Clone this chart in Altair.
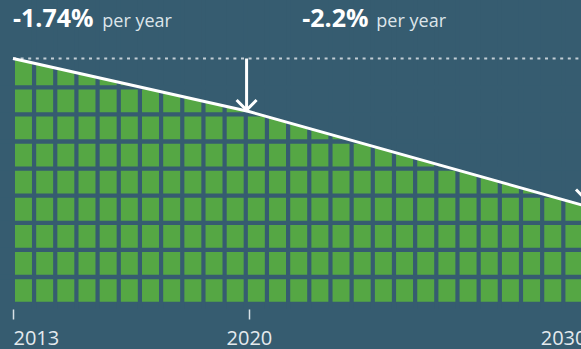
import altair as alt
import pandas as pd

# ---------------- data ----------------
line_years = [2013, 2020, 2030]
line_level = [100.0, 78.2, 39.3]          # index, 2013 = 100

rate_labels = ["-1.74%", "-2.2%"]
rate_suffix = ["per year", "per year"]
rate_label_year = [2013.0, 2021.58]
suffix_year = [2015.65, 2023.78]
label_level = [113.0, 113.0]

arrow_years = [2019.93, 2030.0]
arrow_top = [100.0, 100.0]
arrow_tip = [78.8, 42.0]

tick_years = [2013, 2020, 2030]
grid_cols = list(range(28))   # vertical gaps between square columns
grid_rows = list(range(8))    # horizontal gaps between square rows

# ---------------- style ----------------
BG = "#365c70"
GREEN = "#55a744"
FONT = "Open Sans"

xs = alt.Scale(domain=[2013, 2030], range=[13, 586])
ys = alt.Scale(domain=[0, 100], range=[301.7, 58.5])

line_df = pd.DataFrame({"year": line_years, "level": line_level})

area = alt.Chart(line_df).mark_area(color=GREEN, opacity=1).encode(
    x=alt.X("year:Q", scale=xs,
            axis=alt.Axis(values=tick_years, format="d", title=None, domain=False,
                          grid=False, tickSize=10, tickColor="#d8e1e6", tickWidth=1.5,
                          labelColor="#e4eaee", labelFont=FONT, labelFontSize=20,
                          labelPadding=9, labelFlush=True, labelOverlap=False)),
    y=alt.Y("level:Q", scale=ys, axis=None),
    y2=alt.Y2(datum=0),
)

vgap = alt.Chart(pd.DataFrame({"col": grid_cols})).mark_rule(
    color=BG, strokeWidth=4.2).encode(
    x=alt.X("col:Q", scale=alt.Scale(domain=[0, 27], range=[12.9, 584.5]), axis=None)
)

hgap = alt.Chart(pd.DataFrame({"row": grid_rows})).mark_rule(
    color=BG, strokeWidth=4.3).encode(
    y=alt.Y("row:Q", scale=alt.Scale(domain=[0, 7], range=[277, 87.3]), axis=None)
)

dotted_df = pd.DataFrame({"x0": [2013], "x1": [2030], "level": [100.0]})
dotted = alt.Chart(dotted_df).mark_rule(
    color="#c3ced5", strokeWidth=2, strokeDash=[3, 4.6]).encode(
    x=alt.X("x0:Q", scale=xs, axis=None),
    x2="x1:Q",
    y=alt.Y("level:Q", scale=ys, axis=None),
)

line = alt.Chart(line_df).mark_line(color="white", strokeWidth=3).encode(
    x=alt.X("year:Q", scale=xs, axis=None),
    y=alt.Y("level:Q", scale=ys, axis=None),
)

arrow_df = pd.DataFrame({"year": arrow_years, "top": arrow_top, "tip": arrow_tip})
shaft = alt.Chart(arrow_df).mark_rule(color="white", strokeWidth=3).encode(
    x=alt.X("year:Q", scale=xs, axis=None),
    y=alt.Y("top:Q", scale=ys, axis=None),
    y2="tip:Q",
)
head = alt.Chart(arrow_df).mark_point(
    shape="M-1,-1L0,0L1,-1", size=400, filled=False, color="white",
    strokeWidth=3, opacity=1).encode(
    x=alt.X("year:Q", scale=xs, axis=None),
    y=alt.Y("tip:Q", scale=ys, axis=None),
)

rate_df = pd.DataFrame({"year": rate_label_year, "level": label_level, "text": rate_labels})
rate_text = alt.Chart(rate_df).mark_text(
    align="left", baseline="alphabetic", font=FONT, fontSize=25,
    fontWeight="bold", color="white").encode(
    x=alt.X("year:Q", scale=xs, axis=None),
    y=alt.Y("level:Q", scale=ys, axis=None),
    text="text:N",
)

suffix_df = pd.DataFrame({"year": suffix_year, "level": label_level, "text": rate_suffix})
suffix_text = alt.Chart(suffix_df).mark_text(
    align="left", baseline="alphabetic", font=FONT, fontSize=18,
    color="#dde5ea").encode(
    x=alt.X("year:Q", scale=xs, axis=None),
    y=alt.Y("level:Q", scale=ys, axis=None),
    text="text:N",
)

chart = alt.layer(
    area, vgap, hgap, dotted, line, shaft, head, rate_text, suffix_text
).resolve_scale(x="independent", y="independent").properties(
    width=581, height=309, background=BG,
    padding={"left": 0, "top": 0, "right": 0, "bottom": 40},
    autosize=alt.AutoSizeParams(type="none"),
).configure_view(stroke=None)

chart.save("out.html", embed_options={"renderer": "svg", "actions": False})
